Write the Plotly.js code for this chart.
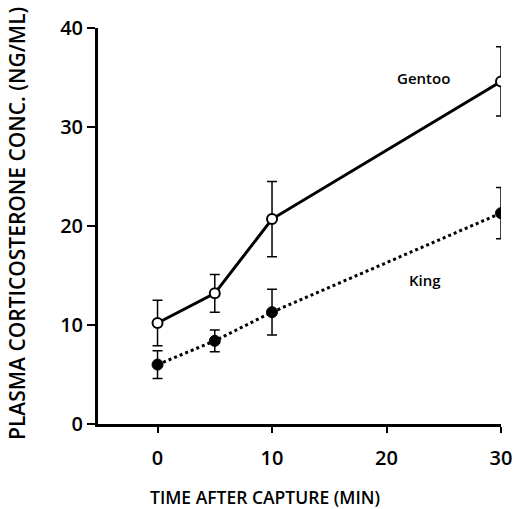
<!DOCTYPE html>
<html><head><meta charset="utf-8">
<script src="https://cdn.plot.ly/plotly-3.0.1.min.js"></script>
<style>body{margin:0;background:#fff}#c{width:514px;height:509px}</style>
</head><body><div id="c"></div>
<script>
const time = [0, 5, 10, 30];
const gentoo = [10.2, 13.2, 20.7, 34.6];
const gentooErr = [2.3, 1.9, 3.8, 3.5];
const king = [6.0, 8.4, 11.3, 21.3];
const kingErr = [1.4, 1.1, 2.3, 2.6];
const xTicks = [0, 10, 20, 30];
const yTicks = [0, 10, 20, 30, 40];

const font = 'Open Sans, DejaVu Sans, sans-serif';
const traces = [
  {x: time, y: king, type: 'scatter', mode: 'lines+markers', name: 'King',
   line: {color: '#000', width: 3, dash: 'dot'},
   marker: {color: '#000', size: 11, line: {color: '#000', width: 1}},
   error_y: {type: 'data', array: kingErr, visible: true, color: '#000', thickness: 1.5, width: 5}},
  {x: time, y: gentoo, type: 'scatter', mode: 'lines+markers', name: 'Gentoo',
   line: {color: '#000', width: 3},
   marker: {color: '#fff', size: 10, line: {color: '#000', width: 2}},
   error_y: {type: 'data', array: gentooErr, visible: true, color: '#000', thickness: 1.5, width: 5}}
];
const layout = {
  width: 514, height: 509,
  margin: {l: 98, r: 13, t: 28, b: 85},
  showlegend: false,
  paper_bgcolor: '#fff', plot_bgcolor: '#fff',
  font: {family: font, color: '#000', size: 17, weight: 600},
  xaxis: {range: [-5.2, 30], tickvals: xTicks, showgrid: false, zeroline: false,
    showline: true, linewidth: 3, linecolor: '#000', ticks: 'outside', ticklen: 6, tickwidth: 2, tickcolor: '#000',
    ticklabelstandoff: 8, tickfont: {size: 20, weight: 600}},
  yaxis: {range: [0, 40], tickvals: yTicks, showgrid: false, zeroline: false,
    showline: true, linewidth: 3, linecolor: '#000', ticks: 'outside', ticklen: 8, tickwidth: 2, tickcolor: '#000',
    tickfont: {size: 20, weight: 600}},
  annotations: [
    {x: 23.2, y: 35.0, xref: 'x', yref: 'y', text: 'Gentoo', showarrow: false, font: {size: 15, weight: 600}},
    {x: 23.4, y: 14.5, xref: 'x', yref: 'y', text: 'King', showarrow: false, font: {size: 15, weight: 600}},
    {x: 0, y: 0, xref: 'paper', yref: 'paper', xanchor: 'center', yanchor: 'middle',
     text: 'TIME AFTER CAPTURE (MIN)', showarrow: false, font: {size: 17.5, weight: 600}},
    {x: 0, y: 0, xref: 'paper', yref: 'paper', xanchor: 'center', yanchor: 'middle',
     text: 'PLASMA CORTICOSTERONE CONC. (NG/ML)', showarrow: false,
     textangle: -90, font: {size: 21, weight: 600}}
  ]
};
// place the two title annotations at pixel positions expressed as paper fractions
const pw = 514 - 98 - 13, ph = 509 - 28 - 85;
layout.annotations[2].x = (265 - 98) / pw; layout.annotations[2].y = (509 - 85 - 497) / ph;
layout.annotations[3].x = (17 - 98) / pw; layout.annotations[3].y = (509 - 85 - 224) / ph;
Plotly.newPlot('c', traces, layout, {displayModeBar: false, staticPlot: true});
</script></body></html>
